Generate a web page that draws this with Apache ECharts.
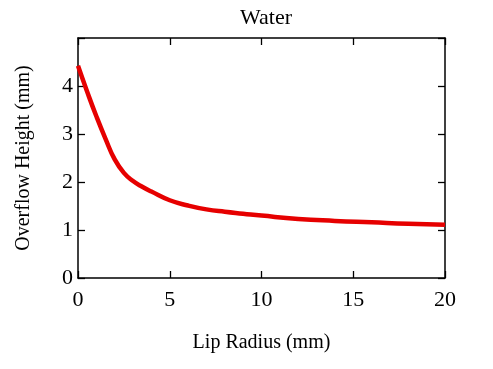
<!DOCTYPE html>
<html>
<head>
<meta charset="utf-8">
<script src="https://cdn.jsdelivr.net/npm/echarts@6/dist/echarts.min.js"></script>
<style>html,body{margin:0;padding:0;background:#fff;}#c{width:493px;height:369px;}</style>
</head>
<body>
<div id="c"></div>
<script>
var lipRadius = [0, 0.5, 1, 1.5, 2, 2.5, 3, 3.5, 4, 5, 6, 7, 8, 9, 10, 12, 14, 16, 18, 20];
var overflowHeight = [4.42, 3.88, 3.37, 2.90, 2.47, 2.19, 2.02, 1.90, 1.80, 1.62, 1.51, 1.43, 1.38, 1.34, 1.30, 1.23, 1.19, 1.16, 1.13, 1.11];
var xTicks = [0, 5, 10, 15, 20];
var yTicks = [0, 1, 2, 3, 4];

var font = 'Liberation Serif, Times New Roman, serif';
var chart = echarts.init(document.getElementById('c'));
var axisLine = {show: true, onZero: false, lineStyle: {color: '#000', width: 1.5}};
var tick = {show: true, inside: true, length: 7, lineStyle: {color: '#000', width: 1.3}};
chart.setOption({
  animation: false,
  backgroundColor: '#fff',
  title: {text: 'Water', left: 261, textAlign: 'center', top: 2,
    textStyle: {fontFamily: font, fontSize: 22, fontWeight: 'normal', color: '#000'}},
  grid: {left: 78, right: 48, top: 38, bottom: 91, containLabel: false},
  xAxis: [{
    type: 'value', min: 0, max: 20, interval: 5, position: 'bottom',
    name: 'Lip Radius (mm)', nameLocation: 'middle', nameGap: 55,
    nameTextStyle: {fontFamily: font, fontSize: 20, color: '#000'},
    axisLine: axisLine, axisTick: tick, splitLine: {show: false},
    axisLabel: {fontFamily: font, fontSize: 22, color: '#000', margin: 11,
      formatter: function (v) { return xTicks.indexOf(v) >= 0 ? String(v) : ''; }}
  }, {
    type: 'value', min: 0, max: 20, interval: 5, position: 'top',
    axisLine: axisLine, axisTick: tick, splitLine: {show: false}, axisLabel: {show: false}
  }],
  yAxis: [{
    type: 'value', min: 0, max: 5, interval: 1, position: 'left',
    name: 'Overflow Height (mm)', nameLocation: 'middle', nameGap: 44, nameRotate: 90,
    nameTextStyle: {fontFamily: font, fontSize: 20, color: '#000'},
    axisLine: axisLine, axisTick: tick, splitLine: {show: false},
    axisLabel: {fontFamily: font, fontSize: 22, color: '#000', margin: 5,
      formatter: function (v) { return yTicks.indexOf(v) >= 0 ? String(v) : ''; }}
  }, {
    type: 'value', min: 0, max: 5, interval: 1, position: 'right',
    axisLine: axisLine, axisTick: tick, splitLine: {show: false}, axisLabel: {show: false}
  }],
  series: [{
    type: 'line', smooth: 0.5, symbol: 'none',
    data: lipRadius.map(function (x, i) { return [x, overflowHeight[i]]; }),
    lineStyle: {color: '#e60000', width: 4.5}
  }]
});
</script>
</body>
</html>
